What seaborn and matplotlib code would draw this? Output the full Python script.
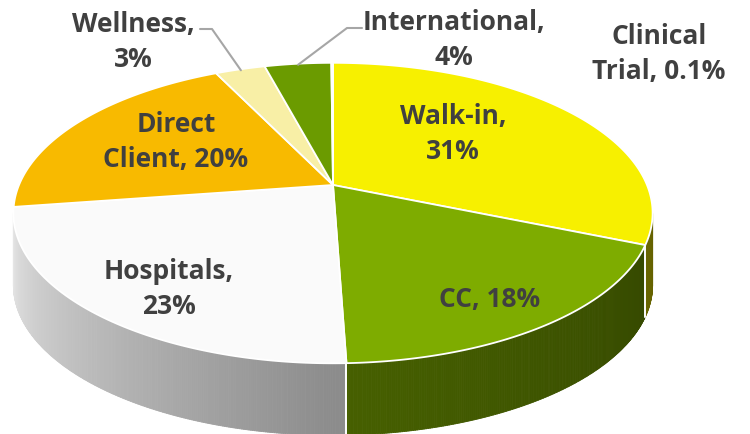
import numpy as np
import matplotlib
matplotlib.use("Agg")
import matplotlib.pyplot as plt
from matplotlib.patches import Polygon
from matplotlib.collections import PolyCollection
import seaborn as sns

# ---------------- data ----------------
categories = ["Walk-in", "CC", "Hospitals", "Direct Client", "Wellness", "International", "Clinical Trial"]
values = [31, 18, 23, 20, 3, 4, 0.1]
label_names = ["Walk-in,\n", "CC, ", "Hospitals,\n", "Direct\nClient, ", "Wellness,\n", "International,\n", "Clinical\nTrial, "]
colors = ["#F7F000", "#7EAC00", "#FAFAFA", "#F8BA00", "#F8EFA6", "#6B9B00", "#A9C45A"]

# ---------------- layout ----------------
sns.set_theme(style="white")
plt.rcParams["font.family"] = ["Open Sans", "DejaVu Sans"]

W, H = 750, 434
fig = plt.figure(figsize=(W / 100, H / 100), dpi=100)
ax = fig.add_axes([0, 0, 1, 1])
ax.set_xlim(0, W)
ax.set_ylim(H, 0)
ax.axis("off")

CX, CY, SX, SY, K = 333.0, 185.0, 314.0, 145.0, 0.1867
DEPTH = 72.0


def proj(theta_deg, r=1.0):
    t = np.radians(theta_deg)
    x = r * np.cos(t)
    y = r * np.sin(t)
    w = 1 + K * y
    return CX + SX * x / w, CY - SY * y / w


vals = np.array(values, dtype=float)
frac = vals / vals.sum()
ends = 90 - 360 * np.cumsum(frac)
starts = np.concatenate([[90.0], ends[:-1]])

# visible wall range (silhouette where sin(theta) = -K)
th_left = -180 + np.degrees(np.arcsin(K))
th_right = -np.degrees(np.arcsin(K))


def shade(th):
    return np.interp(th, [-170, -90, -10], [0.92, 0.56, 0.40])


# ---------------- side walls ----------------
for i in range(len(vals)):
    hi = min(starts[i], th_right)
    lo = max(ends[i], th_left)
    if hi <= lo:
        continue
    ths = np.linspace(hi, lo, max(3, int((hi - lo) * 3)))
    base = np.array(matplotlib.colors.to_rgb(colors[i]))
    polys, fcs = [], []
    for a, b in zip(ths[:-1], ths[1:]):
        ua, va = proj(a)
        ub, vb = proj(b)
        polys.append([(ua, va), (ub, vb), (ub, vb + DEPTH), (ua, va + DEPTH)])
        fcs.append(np.clip(base * shade((a + b) / 2), 0, 1))
    pc = PolyCollection(polys, facecolors=fcs, edgecolors=fcs, linewidths=0.6, zorder=1)
    ax.add_collection(pc)
    for th in (starts[i], ends[i]):
        if th_left < th < th_right:
            u, v = proj(th)
            ax.plot([u, u], [v, v + DEPTH], color="white", lw=1.2, zorder=2)

# ---------------- top faces ----------------
for i in range(len(vals)):
    ths = np.linspace(starts[i], ends[i], max(3, int(abs(starts[i] - ends[i]) * 2)))
    u, v = proj(ths)
    pts = [(CX, CY)] + list(zip(u, v))
    ax.add_patch(Polygon(pts, closed=True, facecolor=colors[i], edgecolor="white",
                         lw=1.3, joinstyle="round", zorder=3))

# ---------------- labels ----------------
TXT = "#404040"
label_pos = {
    "Walk-in": (453, 134),
    "CC": (490, 299),
    "Hospitals": (169, 289),
    "Direct Client": (176, 142),
    "Wellness": (133, 42),
    "International": (454, 40),
    "Clinical Trial": (659, 54),
}
for name, lab, v in zip(categories, label_names, values):
    x, y = label_pos[name]
    ax.text(x, y, f"{lab}{v:g}%", ha="center", va="center", multialignment="center",
            fontsize=19, fontweight="bold", color=TXT, linespacing=1.42, zorder=5)

# leader lines
mid = (starts + ends) / 2
elbows = {"Wellness": [(200, 29), (212, 29)], "International": [(362, 28), (347, 28)]}
for name, pts in elbows.items():
    i = categories.index(name)
    u, v = proj(mid[i], 0.99)
    xs = [p[0] for p in pts] + [u]
    ys = [p[1] for p in pts] + [v]
    ax.plot(xs, ys, color="#A6A6A6", lw=1.5, zorder=4)

fig.savefig("out.png", dpi=100)
